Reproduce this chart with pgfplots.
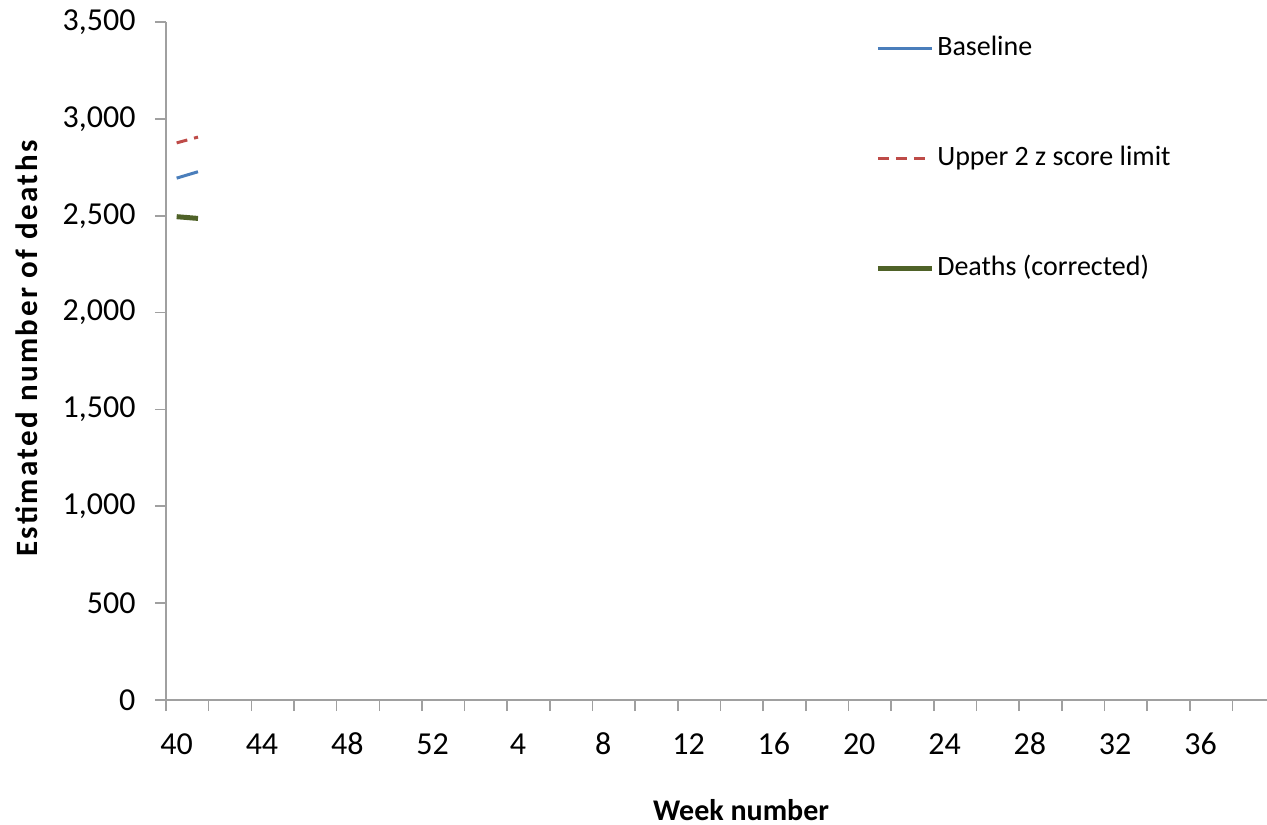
\documentclass[border=0pt]{standalone}
\usepackage{fontspec}
\setmainfont{Carlito}
\usepackage{pgfplots}
\pgfplotsset{compat=1.18}
\definecolor{cBase}{HTML}{4A7EBB}
\definecolor{cUp}{HTML}{BE4B48}
\definecolor{cDeath}{HTML}{4F6228}
\definecolor{cAxis}{HTML}{A0A0A0}
\begin{document}
\begin{tikzpicture}
\begin{axis}[
  name=ax,
  scale only axis,
  width=1101pt, height=678pt,
  xmin=0, xmax=51.62,
  ymin=0, ymax=3500,
  axis x line*=bottom,
  axis y line*=left,
  axis line style={cAxis, line width=1.6pt},
  every tick/.style={cAxis, line width=1.6pt},
  tick align=outside,
  major tick length=11pt,
  xtick={0,2,...,50},
  xticklabels={},
  extra x ticks={0.5,4.5,...,48.5},
  extra x tick labels={40,44,48,52,4,8,12,16,20,24,28,32,36},
  extra x tick style={major tick length=0pt, xticklabel style={anchor=base, yshift=-54pt}},
  ytick={0,500,...,3500},
  yticklabel style={anchor=east, xshift=-16pt},
  /pgf/number format/.cd, 1000 sep={,}, assume math mode=true,
  /pgfplots/.cd,
  tick label style={font=\fontsize{32}{38}\selectfont, text=black},
  xlabel={\textbf{Week number}},
  ylabel={\textbf{\addfontfeature{LetterSpace=8}Estimated number of deaths}},
  xlabel style={font=\fontsize{30}{36}\selectfont, at={(axis description cs:0.5223,-0.177)}, anchor=base},
  ylabel style={font=\fontsize{31}{36}\selectfont, at={(axis description cs:-0.1262,0.52)}, anchor=center},
  legend cell align=left,
  legend style={at={(axis description cs:0.6440,0.9808)}, anchor=north west,
    draw=none, fill=none, inner sep=0pt, row sep=84pt, column sep=3pt,
    font=\fontsize{28}{34}\selectfont,
    nodes={inner sep=0pt, text height=20pt, text depth=6pt}},
  legend image code/.code={\draw[#1] (0pt,0pt) -- (54pt,0pt);},
]
\addplot[cBase, line width=3pt] coordinates {(0.5,2694) (1.5,2727)};
\addlegendentry{Baseline}
\addplot[cUp, line width=3pt, dash pattern=on 11pt off 7pt] coordinates {(0.5,2876) (1.5,2906)};
\addlegendentry{Upper 2 z score limit}
\addplot[cDeath, line width=5pt] coordinates {(0.5,2495) (1.5,2486)};
\addlegendentry{Deaths (corrected)}
\end{axis}
\pgfresetboundingbox
\path (ax.south west) ++(-166pt,-125pt) rectangle ++(1267pt,825pt);
\end{tikzpicture}
\end{document}
